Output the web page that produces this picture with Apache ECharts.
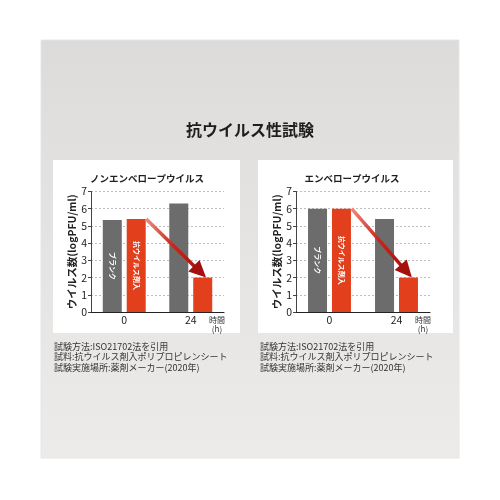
<!DOCTYPE html>
<html>
<head>
<meta charset="utf-8">
<script src="https://cdn.jsdelivr.net/npm/echarts@6/dist/echarts.min.js"></script>
<style>
  html, body { margin: 0; padding: 0; background: #fff; }
  #main { width: 500px; height: 500px; }
</style>
</head>
<body>
<div id="main"></div>
<script>
// データ
var categories    = ['0', '24']                 // 時間 (h)
var leftBlank     = [5.35, 6.3]                 // ノンエンベロープ ブランク
var leftTreated   = [5.4, 2.0]                  // ノンエンベロープ 抗ウイルス剤入
var rightBlank    = [6.0, 5.4]                  // エンベロープ ブランク
var rightTreated  = [6.0, 2.0]                  // エンベロープ 抗ウイルス剤入
var leftArrow     = [[0, 5.4, 1, 2.0]]          // 矢印 (始点カテゴリ, 値, 終点カテゴリ, 値)
var rightArrow    = [[0, 6.0, 1, 2.0]]
var yMax          = 7
var chartTitles   = ['ノンエンベロープウイルス', 'エンベロープウイルス']
var mainTitle     = '抗ウイルス性試験'
var notes         = ['試験方法:ISO21702法を引用', '試料:抗ウイルス剤入ポリプロピレンシート', '試験実施場所:薬剤メーカー(2020年)']

var FONT  = '"Noto Sans CJK JP", "Noto Sans", sans-serif'
var GRAY  = '#6c6c6c'
var RED   = '#e2401d'

var chart = echarts.init(document.getElementById('main'), null, { renderer: 'canvas' })

function barLabel (text) {
    return {
        show: true, position: 'inside', rotate: -90,
        formatter: text, color: '#fff', fontSize: 7, fontWeight: 'bold', fontFamily: FONT
    }
}

function xAxisOf (idx) {
    return {
        type: 'category', gridIndex: idx, data: categories,
        name: '時間\n(h)', nameLocation: 'end', nameGap: -7,
        nameTextStyle: { fontSize: 8, color: '#333', fontFamily: FONT, align: 'center', verticalAlign: 'top', lineHeight: 9, padding: [3, 0, 0, 0] },
        axisLine: { lineStyle: { color: '#222', width: 1.2 } },
        axisTick: { show: false },
        axisLabel: { fontSize: 10.5, color: '#222', margin: 3, fontFamily: FONT }
    }
}

function yAxisOf (idx) {
    return {
        type: 'value', gridIndex: idx, min: 0, max: yMax, interval: 1,
        name: 'ウイルス数(logPFU/ml)', nameLocation: 'middle', nameGap: 14,
        nameTextStyle: { fontSize: 10.5, fontWeight: 'bold', color: '#222', fontFamily: FONT },
        axisLine: { show: true, lineStyle: { color: '#444', width: 1 } },
        axisTick: { show: true, length: 3, lineStyle: { color: '#444' } },
        axisLabel: { fontSize: 10.5, color: '#222', margin: 4, fontFamily: FONT },
        splitLine: { lineStyle: { color: '#bdbdbd', type: [2, 2], width: 1 } }
    }
}

function arrowRender (params, api) {
    var band = api.size([1, 0])[0]
    var a = api.coord([api.value(0), api.value(1)])
    var b = api.coord([api.value(2), api.value(3)])
    a[0] += band * 0.33
    b[0] += band * 0.23
    var dx = b[0] - a[0], dy = b[1] - a[1]
    var len = Math.sqrt(dx * dx + dy * dy)
    var ux = dx / len, uy = dy / len
    var headLen = 17, headW = 8
    var bx = b[0] - ux * headLen, by = b[1] - uy * headLen
    var grad = new echarts.graphic.LinearGradient(a[0], a[1], b[0], b[1], [
        { offset: 0, color: '#ee8a7c' },
        { offset: 0.45, color: '#c8261c' },
        { offset: 1, color: '#9e0e0b' }
    ], true)
    return {
        type: 'group',
        children: [
            { type: 'line', shape: { x1: a[0], y1: a[1], x2: bx + ux, y2: by + uy }, style: { stroke: grad, lineWidth: 3.5 } },
            { type: 'polygon', shape: { points: [
                [b[0], b[1]],
                [bx - uy * headW, by + ux * headW],
                [bx + uy * headW, by - ux * headW]
            ] }, style: { fill: '#a3100d' } }
        ]
    }
}

var option = {
    animation: false,
    backgroundColor: '#fff',
    textStyle: { fontFamily: FONT },
    graphic: [
        { type: 'rect', z: -10, shape: { x: 41, y: 40, width: 418, height: 418 },
          style: { fill: new echarts.graphic.LinearGradient(0, 0, 0, 1, [
              { offset: 0, color: '#dcdbda' }, { offset: 0.3, color: '#e2e1e0' }, { offset: 1, color: '#ecebe9' }
          ]), stroke: '#e6e6e6', lineWidth: 1 } },
        { type: 'rect', z: -9, shape: { x: 53, y: 160, width: 187, height: 173 }, style: { fill: '#fff' } },
        { type: 'rect', z: -9, shape: { x: 258, y: 160, width: 195, height: 173 }, style: { fill: '#fff' } },
        { type: 'text', left: 'center', top: 122, style: { text: mainTitle, fill: '#1e1e1e', font: 'bold 16px ' + FONT } },
        { type: 'text', left: 54, top: 341, style: { text: notes.join('\n'), font: '9px ' + FONT, lineHeight: 10.5, fill: '#333' } },
        { type: 'text', left: 260, top: 341, style: { text: notes.join('\n'), font: '9px ' + FONT, lineHeight: 10.5, fill: '#333' } }
    ],
    title: [
        { text: chartTitles[0], left: 142, top: 169, textAlign: 'center',
          textStyle: { fontSize: 9.5, fontWeight: 'bold', color: '#1e1e1e', fontFamily: FONT } },
        { text: chartTitles[1], left: 347, top: 169, textAlign: 'center',
          textStyle: { fontSize: 9.5, fontWeight: 'bold', color: '#1e1e1e', fontFamily: FONT } }
    ],
    grid: [
        { left: 91, top: 191.5, width: 133, height: 120.5 },
        { left: 296, top: 191.5, width: 134, height: 120.5 }
    ],
    xAxis: [xAxisOf(0), xAxisOf(1)],
    yAxis: [yAxisOf(0), yAxisOf(1)],
    series: [
        { name: 'ブランク', type: 'bar', xAxisIndex: 0, yAxisIndex: 0, barWidth: 19, barGap: '26%',
          itemStyle: { color: GRAY },
          data: leftBlank.map(function (v, i) { return i === 0 ? { value: v, label: barLabel('ブランク') } : v }) },
        { name: '抗ウイルス剤入', type: 'bar', xAxisIndex: 0, yAxisIndex: 0, barWidth: 19, barGap: '26%',
          itemStyle: { color: RED },
          data: leftTreated.map(function (v, i) { return i === 0 ? { value: v, label: barLabel('抗ウイルス剤入') } : v }) },
        { name: 'ブランク', type: 'bar', xAxisIndex: 1, yAxisIndex: 1, barWidth: 19, barGap: '26%',
          itemStyle: { color: GRAY },
          data: rightBlank.map(function (v, i) { return i === 0 ? { value: v, label: barLabel('ブランク') } : v }) },
        { name: '抗ウイルス剤入', type: 'bar', xAxisIndex: 1, yAxisIndex: 1, barWidth: 19, barGap: '26%',
          itemStyle: { color: RED },
          data: rightTreated.map(function (v, i) { return i === 0 ? { value: v, label: barLabel('抗ウイルス剤入') } : v }) },
        { type: 'custom', xAxisIndex: 0, yAxisIndex: 0, z: 5, renderItem: arrowRender,
          encode: { x: [0, 2], y: [1, 3] }, data: leftArrow, silent: true },
        { type: 'custom', xAxisIndex: 1, yAxisIndex: 1, z: 5, renderItem: arrowRender,
          encode: { x: [0, 2], y: [1, 3] }, data: rightArrow, silent: true }
    ]
}

chart.setOption(option)
</script>
</body>
</html>
